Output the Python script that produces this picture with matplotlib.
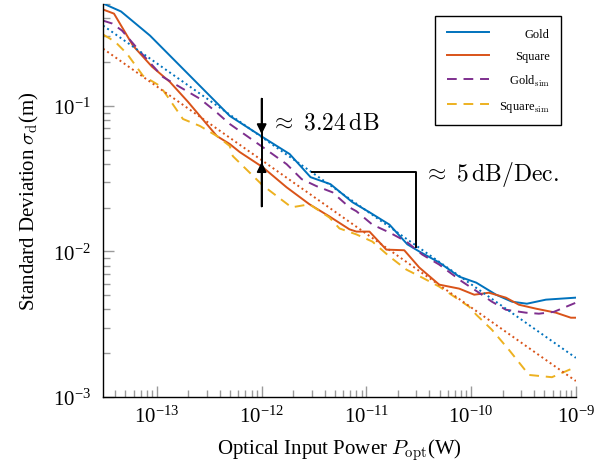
"""Standard deviation vs optical input power, measured and simulated."""

import matplotlib.pyplot as plt

BLUE = "#0072BD"
ORANGE = "#D95319"
PURPLE = "#7E2F8E"
YELLOW = "#EDB120"
TICK = "#9A9A9A"

# measured, Gold code
gold_x = [3.06e-14, 4.54e-14, 8.58e-14, 4.96e-13, 1.02e-12, 1.85e-12, 2.93e-12,
          4.54e-12, 7.36e-12, 1.07e-11, 1.66e-11, 2.46e-11, 3.20e-11, 4.96e-11,
          7.69e-11, 1.12e-10, 1.73e-10, 2.46e-10, 3.41e-10, 5.18e-10, 1e-9]
gold_y = [0.505, 0.445, 0.304, 0.0853, 0.0611, 0.0467, 0.0324,
          0.0290, 0.0218, 0.0186, 0.0153, 0.0112, 0.0100, 0.00840,
          0.00672, 0.00611, 0.00505, 0.00452, 0.00438, 0.00467, 0.00482]

# measured, Square
square_x = [3.06e-14, 3.89e-14, 5.91e-14, 8.96e-14, 1.33e-13, 1.97e-13, 2.57e-13,
            3.73e-13, 4.96e-13, 6.17e-13, 1.02e-12, 1.73e-12, 2.86e-12, 4.44e-12,
            6.89e-12, 8.03e-12, 1.07e-11, 1.55e-11, 2.30e-11, 3.20e-11, 4.96e-11,
            7.69e-11, 1.07e-10, 1.48e-10, 2.15e-10, 2.86e-10, 4.16e-10, 6.45e-10,
            8.96e-10, 1e-9]
square_y = [0.459, 0.430, 0.259, 0.186, 0.146, 0.107, 0.0853,
            0.0621, 0.0547, 0.0482, 0.0380, 0.0276, 0.0211, 0.0174,
            0.0142, 0.0137, 0.0137, 0.0103, 0.0102, 0.00776, 0.00592,
            0.00556, 0.00505, 0.00521, 0.00482, 0.00431, 0.00405, 0.00380,
            0.00351, 0.00351]

# simulated, Gold code
gold_sim_x = [3.06e-14, 3.73e-14, 4.64e-14, 6.89e-14, 1.14e-13, 1.77e-13, 2.57e-13,
              3.57e-13, 4.96e-13, 1.02e-12, 1.73e-12, 2.41e-12, 3.34e-12, 4.74e-12,
              6.89e-12, 8.03e-12, 1.14e-11, 1.66e-11, 2.41e-11, 3.41e-11, 4.96e-11,
              8.21e-11, 1.19e-10, 1.58e-10, 2.15e-10, 3.34e-10, 4.44e-10, 6.17e-10,
              1e-9]
gold_sim_y = [0.385, 0.368, 0.329, 0.236, 0.158, 0.131, 0.112,
              0.0925, 0.0751, 0.0522, 0.0398, 0.0314, 0.0281, 0.0255,
              0.0201, 0.0189, 0.0153, 0.0135, 0.0117, 0.00953, 0.00813,
              0.00621, 0.00521, 0.00452, 0.00398, 0.00380, 0.00374, 0.00385,
              0.00445]

# simulated, Square
square_sim_x = [3.06e-14, 3.98e-14, 5.18e-14, 7.36e-14, 1.07e-13, 1.25e-13, 1.77e-13,
                2.57e-13, 3.73e-13, 4.96e-13, 5.30e-13, 1.02e-12, 1.93e-12, 2.86e-12,
                4.44e-12, 5.53e-12, 8.03e-12, 1.14e-11, 1.66e-11, 2.41e-11, 3.41e-11,
                4.96e-11, 9.57e-11, 1.12e-10, 1.58e-10, 2.30e-10, 3.57e-10, 5.91e-10,
                1e-9]
square_sim_y = [0.309, 0.276, 0.228, 0.161, 0.137, 0.117, 0.0813,
                0.0728, 0.0621, 0.0530, 0.0452, 0.0285, 0.0201, 0.0211,
                0.0171, 0.0144, 0.0131, 0.0117, 0.00924, 0.00751, 0.00662,
                0.00574, 0.00418, 0.00368, 0.00290, 0.00211, 0.00142, 0.00137,
                0.00161]

# fitted lines (end points)
fit_x = [3.06e-14, 1e-9]
gold_fit_y = [0.356, 1.86e-3]
square_fit_y = [0.247, 1.29e-3]

x_major = [1e-13, 1e-12, 1e-11, 1e-10, 1e-9]
y_major = [1e-3, 1e-2, 1e-1]

plt.rcParams.update({
    "font.family": "Liberation Serif",
    "mathtext.fontset": "cm",
    "axes.linewidth": 1.0,
})

fig = plt.figure(figsize=(6.1, 4.64), dpi=100)
ax = fig.add_axes([0.169, 0.142, 0.775, 0.847])

lw = 1.4
ax.plot(gold_x, gold_y, color=BLUE, lw=lw, label="Gold")
ax.plot(square_x, square_y, color=ORANGE, lw=lw, label="Square")
ax.plot(gold_sim_x, gold_sim_y, color=PURPLE, lw=lw, ls=(0, (5, 3.5)),
        label=r"Gold$_{\rm sim}$")
ax.plot(square_sim_x, square_sim_y, color=YELLOW, lw=lw, ls=(0, (5, 3.5)),
        label=r"Square$_{\rm sim}$")
ax.plot(fit_x, gold_fit_y, color=BLUE, lw=1.4, ls=(0, (1, 1.6)))
ax.plot(fit_x, square_fit_y, color=ORANGE, lw=1.4, ls=(0, (1, 1.6)))

ax.set_xscale("log")
ax.set_yscale("log")
ax.set_xticks(x_major)
ax.set_yticks(y_major)
ax.set_xlim(3.06e-14, 1e-9)
ax.set_ylim(1e-3, 0.5)

ax.spines["top"].set_visible(False)
ax.spines["right"].set_visible(False)
ax.tick_params(which="both", direction="in", color=TICK, width=1.0,
               labelsize=15)
ax.tick_params(axis="x", pad=6)
ax.tick_params(axis="y", pad=9)
ax.tick_params(which="major", length=8)
ax.tick_params(which="minor", length=5)

ax.set_xlabel(r"Optical Input Power $P_{\rm opt}$(W)", fontsize=15, labelpad=7)
ax.set_ylabel(r"Standard Deviation $\sigma_{\rm d}$(m)", fontsize=15, labelpad=8)

# 3.24 dB gap marker at 1e-12
ax.plot([1e-12, 1e-12], [0.112, 0.0204], color="black", lw=1.4)
arrow = dict(arrowstyle="-|>", color="black", lw=1.4, mutation_scale=14,
             shrinkA=0, shrinkB=0)
ax.annotate("", xy=(1e-12, 0.064), xytext=(1e-12, 0.112), arrowprops=arrow)
ax.annotate("", xy=(1e-12, 0.0411), xytext=(1e-12, 0.0204), arrowprops=arrow)
ax.text(1.2e-12, 0.077, r"$\approx\ 3.24\,\mathrm{dB}$", fontsize=17,
        va="center", ha="left")

# slope bracket
ax.plot([3e-12, 3e-11, 3e-11], [0.0351, 0.0351, 0.0107], color="black", lw=1.4)
ax.text(3.5e-11, 0.0345, r"$\approx\ 5\,\mathrm{dB/Dec.}$", fontsize=17,
        va="center", ha="left")

leg = ax.legend(loc="upper right", bbox_to_anchor=(0.968, 0.969),
                borderaxespad=0, fancybox=False, framealpha=1,
                edgecolor="black", fontsize=9, handlelength=3.4,
                labelspacing=0.85, borderpad=0.9, handletextpad=0.8)
leg.get_frame().set_linewidth(1.0)

# right-align the legend labels: push the shorter ones over
fig.canvas.draw()
renderer = fig.canvas.get_renderer()
widths = [t.get_window_extent(renderer).width for t in leg.get_texts()]
widest = max(widths)
for t, w in zip(leg.get_texts(), widths):
    t.set_position((widest - w, 0))

fig.savefig("out.png", dpi=100)
